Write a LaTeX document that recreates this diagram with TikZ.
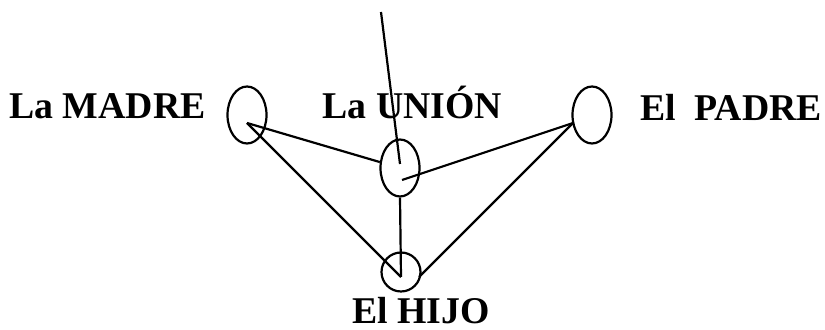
\documentclass[tikz,border=0pt]{standalone}
\usepackage{fontspec}
\setmainfont{Liberation Serif}
\usetikzlibrary{shapes.geometric}

\begin{document}
\begin{tikzpicture}[
  x=0.02cm, y=-0.02cm,
  rotulo/.style={anchor=base, inner sep=0pt, font=\fontsize{21.5}{24}\selectfont\bfseries},
  anillo/.style={draw, ellipse, line width=1.25pt, inner sep=0pt,
    minimum width=0.78cm, minimum height=1.14cm},
  link/.style={line width=1.25pt},
]
\useasboundingbox (0,0) rectangle (825,330);

% ─── TEXTOS ───
\node[rotulo] (tmadre) at (107.5,119) {La MADRE};
\node[rotulo] (tunion) at (412.5,119) {La UNIÓN};
\node[rotulo] (tpadre) at (731,121) {El\ \ PADRE};
\node[rotulo] (thijo)  at (421,324) {El HIJO};
%
% ─── ANILLOS ───
\node[anillo] (madre) at (247,115) {};
\node[anillo] (union) at (400,168) {};
\node[anillo] (padre) at (592,115) {};
\node[anillo, circle, minimum size=0.78cm] (hijo) at (401,272) {};
%
% puntos de contacto
\coordinate (cima)    at (381,12);
\coordinate (madre-p) at (247,123);
\coordinate (padre-p) at (573,123);
\coordinate (union-a) at (400,164);
\coordinate (union-b) at (402,180);
\coordinate (hijo-a)  at (401,277);
\coordinate (hijo-b)  at (419,277);
%
% ─── LINEAS ───
\draw[link] (cima) -- (union-a);
\draw[link] (madre-p) -- (union);
\draw[link] (union-b) -- (padre-p);
\draw[link] (union.south) -- (hijo-a);
\draw[link] (madre-p) -- (hijo-a);
\draw[link] (padre-p) -- (hijo-b);

\end{tikzpicture}
\end{document}
